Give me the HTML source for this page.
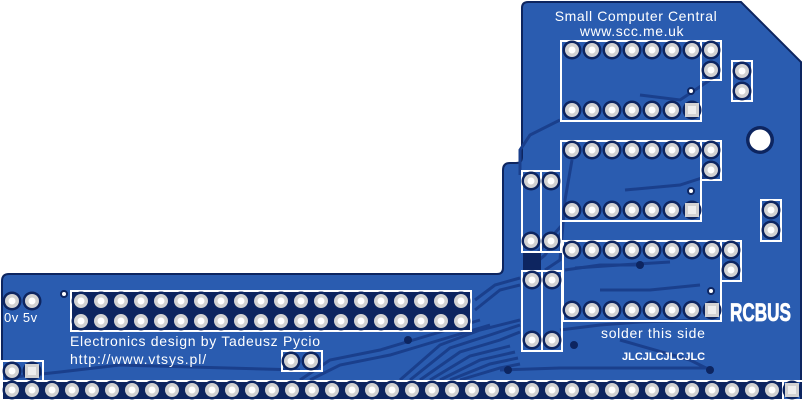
<!DOCTYPE html>
<html><head><meta charset="utf-8"><style>
html,body{margin:0;padding:0;background:#fff;}
svg{display:block;}
text{font-family:"Liberation Sans",sans-serif;fill:#fff;}
</style></head><body>
<svg width="803" height="400" viewBox="0 0 803 400" xmlns="http://www.w3.org/2000/svg">
<defs>
<g id="p"><circle r="9.5" fill="#0d2560"/><circle r="7" fill="#d2d2d2"/><circle r="3.5" fill="#fff"/></g>
<g id="s"><circle r="9.5" fill="#0d2560"/><rect x="-7" y="-7" width="14" height="14" fill="#d2d2d2"/><rect x="-4" y="-4" width="8" height="8" fill="#eee"/></g>
</defs>
<path d="M528,2 L741,2 L801,62 L801,400 L2,400 L2,281 Q2,274 9,274 L497,274 Q503,274 503,268 L503,170 Q503,163 510,163 L516,163 Q522,163 522,157 L522,8 Q522,2 528,2 Z" fill="#2a5cb0" stroke="#0d2560" stroke-width="2"/>
<g fill="none" stroke="#1a3f8c" stroke-width="3">
<path d="M560,120 L530,135 L520,150 L520,175"/>
<path d="M572,160 L565,200 L560,260 L545,270"/>
<path d="M475,310 L500,290 L520,285"/>
<path d="M475,300 L495,285 L520,278"/>
<path d="M400,380 L440,345 L480,330 L520,320"/>
<path d="M410,380 L450,348 L490,335 L520,325"/>
<path d="M420,380 L460,352 L500,340 L520,332"/>
<path d="M430,380 L470,356 L510,346"/>
<path d="M440,380 L480,360 L515,352"/>
<path d="M450,380 L490,364 L518,358"/>
<path d="M460,380 L500,368 L520,364"/>
<path d="M300,380 L330,360 L380,350 L430,335 L480,320"/>
<path d="M310,380 L340,365 L390,355 L440,340 L490,325"/>
<path d="M5,378 L60,372 L120,365 L300,370"/>
<path d="M560,330 L600,325 L640,322 L700,320"/>
<path d="M620,340 L690,360 L710,370"/>
<path d="M565,270 L600,265 L640,265"/>
<path d="M600,290 L650,290 L700,285"/>
<path d="M500,370 L560,368 L630,368 L710,368"/>
<path d="M575,268 L620,265 L670,262"/>
<path d="M640,95 L680,100 L710,80"/>
<path d="M625,190 L680,185 L711,175"/>
<path d="M562,225 L540,250 L525,265"/>
<path d="M562,232 L545,255 L530,268"/>
</g>
<rect x="71" y="291" width="400" height="40" fill="#0d2560"/>
<rect x="2" y="382" width="781" height="18" fill="#0d2560"/>
<rect x="523" y="252" width="18" height="19" fill="#0d2560"/>
<g fill="none" stroke="#fff" stroke-width="2">
<rect x="561" y="41" width="140" height="80"/>
<rect x="701" y="41" width="20" height="39"/>
<rect x="732" y="61" width="20" height="40"/>
<rect x="561" y="141" width="140" height="80"/>
<rect x="701" y="141" width="20" height="39"/>
<rect x="761" y="200" width="20" height="41"/>
<rect x="563" y="241" width="158" height="80"/>
<rect x="721" y="241" width="20" height="40"/>
<rect x="522" y="171" width="19" height="81"/>
<rect x="541" y="171" width="20" height="81"/>
<rect x="522" y="271" width="20" height="80"/>
<rect x="542" y="271" width="20" height="80"/>
<rect x="71" y="291" width="400" height="40"/>
<rect x="2" y="361" width="41" height="20"/>
<rect x="282" y="351" width="40" height="20"/>
<rect x="2" y="381" width="781" height="19"/>
<rect x="783" y="381" width="20" height="19"/>
</g>
<circle cx="760" cy="140" r="14" fill="#0d2560"/><circle cx="760" cy="140" r="10.5" fill="#fff"/>
<g fill="#fff" stroke="#0d2560" stroke-width="2"><circle cx="691" cy="91" r="3"/><circle cx="691" cy="191" r="3"/><circle cx="711" cy="291" r="3"/><circle cx="64" cy="294" r="3"/></g>
<g fill="#0d2560"><circle cx="574" cy="345" r="4"/><circle cx="710" cy="370" r="4"/><circle cx="408" cy="340" r="4"/><circle cx="508" cy="370" r="4"/><circle cx="640" cy="265" r="4"/></g>
<g>
<use href="#p" x="572" y="50"/><use href="#p" x="592" y="50"/><use href="#p" x="612" y="50"/><use href="#p" x="632" y="50"/><use href="#p" x="652" y="50"/><use href="#p" x="672" y="50"/><use href="#p" x="692" y="50"/>
<use href="#p" x="572" y="110"/><use href="#p" x="592" y="110"/><use href="#p" x="612" y="110"/><use href="#p" x="632" y="110"/><use href="#p" x="652" y="110"/><use href="#p" x="672" y="110"/><use href="#s" x="692" y="110"/>
<use href="#p" x="711" y="50"/><use href="#p" x="711" y="70"/><use href="#p" x="742" y="71"/><use href="#p" x="742" y="91"/>
<use href="#p" x="572" y="150"/><use href="#p" x="592" y="150"/><use href="#p" x="612" y="150"/><use href="#p" x="632" y="150"/><use href="#p" x="652" y="150"/><use href="#p" x="672" y="150"/><use href="#p" x="692" y="150"/>
<use href="#p" x="572" y="210"/><use href="#p" x="592" y="210"/><use href="#p" x="612" y="210"/><use href="#p" x="632" y="210"/><use href="#p" x="652" y="210"/><use href="#p" x="672" y="210"/><use href="#s" x="692" y="210"/>
<use href="#p" x="711" y="150"/><use href="#p" x="711" y="170"/><use href="#p" x="771" y="210"/><use href="#p" x="771" y="230"/>
<use href="#p" x="572" y="250"/><use href="#p" x="592" y="250"/><use href="#p" x="612" y="250"/><use href="#p" x="632" y="250"/><use href="#p" x="652" y="250"/><use href="#p" x="672" y="250"/><use href="#p" x="692" y="250"/><use href="#p" x="712" y="250"/>
<use href="#p" x="572" y="310"/><use href="#p" x="592" y="310"/><use href="#p" x="612" y="310"/><use href="#p" x="632" y="310"/><use href="#p" x="652" y="310"/><use href="#p" x="672" y="310"/><use href="#p" x="692" y="310"/><use href="#s" x="712" y="310"/>
<use href="#p" x="731" y="250"/><use href="#p" x="731" y="270"/>
<use href="#p" x="531" y="181"/><use href="#p" x="551" y="181"/><use href="#p" x="531" y="241"/><use href="#p" x="551" y="241"/>
<use href="#p" x="532" y="280"/><use href="#p" x="552" y="280"/><use href="#p" x="532" y="340"/><use href="#p" x="552" y="340"/>
<use href="#p" x="12" y="301"/><use href="#p" x="32" y="301"/>
<use href="#p" x="12" y="371"/><use href="#s" x="32" y="371"/>
<use href="#p" x="291" y="361"/><use href="#p" x="311" y="361"/>
</g>
<g id="r1">
<use href="#p" x="81" y="301"/><use href="#p" x="101" y="301"/><use href="#p" x="121" y="301"/><use href="#p" x="141" y="301"/><use href="#p" x="161" y="301"/><use href="#p" x="181" y="301"/><use href="#p" x="201" y="301"/><use href="#p" x="221" y="301"/><use href="#p" x="241" y="301"/><use href="#p" x="261" y="301"/><use href="#p" x="281" y="301"/><use href="#p" x="301" y="301"/><use href="#p" x="321" y="301"/><use href="#p" x="341" y="301"/><use href="#p" x="361" y="301"/><use href="#p" x="381" y="301"/><use href="#p" x="401" y="301"/><use href="#p" x="421" y="301"/><use href="#p" x="441" y="301"/><use href="#p" x="461" y="301"/>
</g>
<use href="#r1" x="0" y="20"/>
<g id="b1">
<use href="#p" x="12" y="390"/><use href="#p" x="32" y="390"/><use href="#p" x="52" y="390"/><use href="#p" x="72" y="390"/><use href="#p" x="92" y="390"/><use href="#p" x="112" y="390"/><use href="#p" x="132" y="390"/><use href="#p" x="152" y="390"/><use href="#p" x="172" y="390"/><use href="#p" x="192" y="390"/>
</g>
<use href="#b1" x="200" y="0"/><use href="#b1" x="400" y="0"/>
<use href="#p" x="612" y="390"/><use href="#p" x="632" y="390"/><use href="#p" x="652" y="390"/><use href="#p" x="672" y="390"/><use href="#p" x="692" y="390"/><use href="#p" x="712" y="390"/><use href="#p" x="732" y="390"/><use href="#p" x="752" y="390"/><use href="#p" x="772" y="390"/>
<use href="#s" x="792" y="390"/>
<text x="636" y="21" font-size="14" text-anchor="middle" letter-spacing="0.6">Small Computer Central</text>
<text x="632" y="36" font-size="14" text-anchor="middle" letter-spacing="0.6">www.scc.me.uk</text>
<text x="4" y="322" font-size="13" letter-spacing="0.5">0v 5v</text>
<text x="70" y="346" font-size="14" letter-spacing="0.7">Electronics design by Tadeusz Pycio</text>
<text x="70" y="364" font-size="14" letter-spacing="0.9">http://www.vtsys.pl/</text>
<text x="601" y="338" font-size="14" letter-spacing="0.7">solder this side</text>
<text x="622" y="360" font-size="11" font-weight="bold">JLCJLCJLCJLC</text>
<text x="730" y="321" font-size="25" font-weight="bold" stroke="#fff" stroke-width="0.8" textLength="61" lengthAdjust="spacingAndGlyphs">RCBUS</text>
</svg>
</body></html>
